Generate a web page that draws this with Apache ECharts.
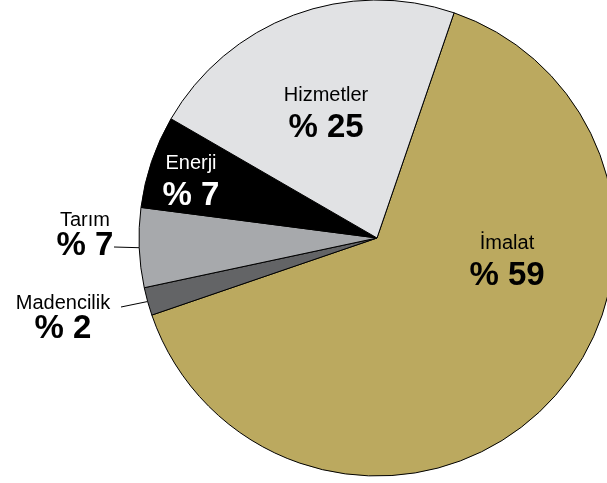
<!DOCTYPE html>
<html>
<head>
<meta charset="utf-8">
<script src="https://cdn.jsdelivr.net/npm/echarts@6/dist/echarts.min.js"></script>
<style>
  html, body { margin: 0; padding: 0; background: #fff; }
  #main { width: 607px; height: 483px; }
</style>
</head>
<body>
<div id="main"></div>
<script>
// sectors, clockwise from the top edge
const sectors = ['İmalat', 'Madencilik', 'Tarım', 'Enerji', 'Hizmetler']
// printed percentages
const printed = ['% 59', '% 2', '% 7', '% 7', '% 25']
// slice sizes as drawn in the picture (share of the circle)
const shares = [64.5, 1.9, 5.4, 6.3, 21.9]

const colors = ['#bba95f', '#636466', '#a7a9ac', '#000000', '#e1e2e4']
const textColors = ['#000', '#000', '#000', '#fff', '#000']
// label block centres
const labelPos = [[507, 261], [63, 317], [85, 234], [191, 181], [326, 113]]
// where the leader line of an outside label ends
const lineEnd = { 1: [121, 307], 2: [114, 247] }

const FONT = 'Liberation Sans, Arial, sans-serif'

const chart = echarts.init(document.getElementById('main'))

const data = sectors.map((name, i) => {
  const outside = lineEnd[i] != null
  return {
    name: name,
    value: shares[i],
    itemStyle: { color: colors[i] },
    label: {
      position: outside ? 'outside' : 'inside',
      formatter: '{n|' + name + '}\n{v|' + printed[i] + '}',
      rich: {
        n: { fontSize: 20, lineHeight: outside ? 24 : 30, color: textColors[i], fontFamily: FONT, align: 'center' },
        v: { fontSize: 33, fontWeight: 'bold', lineHeight: outside ? 28 : 36, color: textColors[i], fontFamily: FONT, align: 'center' }
      }
    },
    labelLine: {
      show: outside,
      length: 2,
      length2: 20,
      lineStyle: { color: '#000', width: 1 }
    }
  }
})

const option = {
  animation: false,
  series: [
    {
      type: 'pie',
      center: [377, 238],
      radius: 238,
      startAngle: 71.1,
      clockwise: true,
      avoidLabelOverlap: false,
      minAngle: 0,
      itemStyle: { borderColor: '#000', borderWidth: 1 },
      label: { show: true },
      labelLayout: function (params) {
        const i = params.dataIndex
        const p = labelPos[i]
        const res = { x: p[0], y: p[1], align: 'center', verticalAlign: 'middle' }
        if (lineEnd[i] && params.labelLinePoints) {
          res.labelLinePoints = [params.labelLinePoints[0], lineEnd[i]]
        }
        return res
      },
      data: data
    }
  ]
}
chart.setOption(option)
window.addEventListener('resize', () => {
  chart.resize()
})
</script>
</body>
</html>
